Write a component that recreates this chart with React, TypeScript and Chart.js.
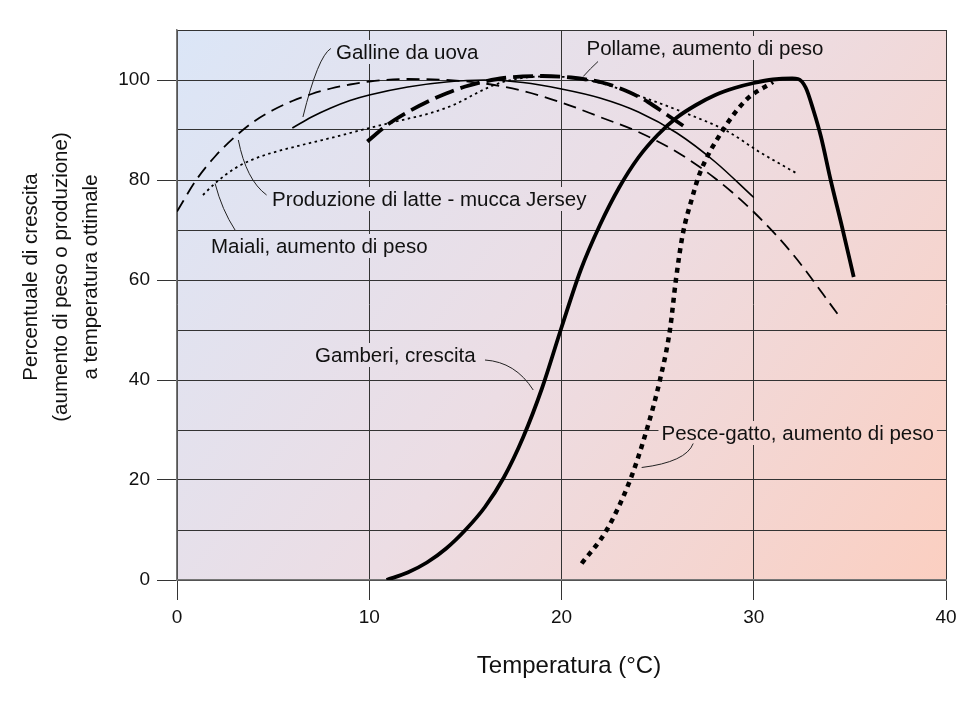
import React, { useEffect, useRef } from "react";
import { Chart, registerables } from "chart.js";

Chart.register(...registerables);

const FONT = '"Liberation Sans", Arial, Helvetica, sans-serif';

// ---- Data (temperature °C -> % of growth at optimal temperature) ----
const gallineT = [6, 7, 8, 9, 10, 12, 14, 16, 18, 20, 22, 24, 26, 28, 30];
const gallineY = [90.4, 92.6, 94.4, 95.9, 97, 98.6, 99.6, 100, 99.5, 98.2, 96.4, 93.6, 89.4, 83.6, 76.5];

const jerseyT = [0, 1, 2, 3, 4, 5, 6, 7, 8, 9, 10, 12, 14, 16, 18, 20, 22, 24, 26, 28, 30, 32, 34.4];
const jerseyY = [73.7, 80, 84.8, 88.6, 91.7, 94, 95.8, 97.2, 98.3, 99.1, 99.7, 100.2, 100, 99.3, 97.8, 95.5, 92.6, 89.6, 85.6, 80.3, 73.6, 65.3, 53];

const maialiT = [1.35, 2, 3, 4, 5, 6.6, 8.3, 10, 11.5, 13.2, 14.5, 15.5, 16.5, 17.5, 19, 20.5, 22.2, 24.2, 26.3, 28.6, 30.3, 32.2];
const maialiY = [77, 79.4, 82.3, 84.2, 85.5, 87.1, 88.7, 90.4, 91.8, 93.4, 95.2, 97.2, 99, 100.1, 100.7, 100.5, 99.2, 96.6, 93.6, 89.8, 85.6, 81.4];

const pollameT = [9.9, 11, 12, 13, 14, 15, 16, 17, 19, 20.5, 22.2, 23.5, 24.5, 25.5, 26.5];
const pollameY = [87.7, 91.2, 93.6, 95.6, 97.3, 98.7, 99.7, 100.4, 100.8, 100.5, 99.4, 97.6, 95.6, 93, 90.4];

const gamberiT = [10.9, 12, 13, 14, 15, 16, 17, 18, 19, 20, 21, 22, 23, 24, 25, 26, 27, 28, 29, 30, 31, 32, 32.3, 32.7, 33.1, 33.5, 34, 34.6, 35.2];
const gamberiY = [0, 1.5, 3.5, 6.3, 10, 14.5, 20.5, 28.5, 38.5, 50.5, 62, 71, 78.5, 84.5, 89, 92.5, 95, 97, 98.4, 99.4, 100.1, 100.3, 100.2, 98.5, 94, 88.6, 80, 70.5, 60.6];

const pesceT = [21.05, 22.35, 23.57, 24.43, 25.12, 25.64, 25.95, 26.3, 26.8, 27.2, 28.4, 29.6, 31];
const pesceY = [3.3, 10, 20, 30, 40, 50, 60, 69, 76.5, 81.4, 90, 96, 99.6];

const xTickValues = [0, 10, 20, 30, 40];
const yLabelValues = [0, 20, 40, 60, 80, 100];

const xTitle = "Temperatura (°C)";
const yTitle = ["Percentuale di crescita", "(aumento di peso o produzione)", "a temperatura ottimale"];

// Annotation labels (left x, centre y in data units) with leader curves (start, control, end)
const annLabels = [
  { text: "Galline da uova", x: 8.27, y: 105.6, leader: [[8.0, 106.3], [7.33, 104.7], [6.55, 92.6]] },
  { text: "Pollame, aumento di peso", x: 21.3, y: 106.4, leader: [[21.9, 103.7], [21.5, 102.3], [21.13, 100.7]] },
  { text: "Produzione di latte - mucca Jersey", x: 4.94, y: 76.2, leader: [[4.66, 77], [3.6, 80], [3.19, 88]] },
  { text: "Maiali, aumento di peso", x: 1.77, y: 66.8, leader: [[3.02, 70], [2.34, 74], [1.98, 79.3]] },
  { text: "Gamberi, crescita", x: 7.18, y: 45, leader: [[16.02, 44], [17.6, 43.6], [18.53, 38]] },
  { text: "Pesce-gatto, aumento di peso", x: 25.2, y: 29.4, leader: [[26.85, 27.3], [26.48, 23.6], [24.17, 22.5]] },
];

function pts(xs: number[], ys: number[]) {
  return xs.map((x, i) => ({ x, y: ys[i] }));
}

function makeGradient(ctx: CanvasRenderingContext2D, a: any) {
  const g = ctx.createLinearGradient(a.left, a.top, a.right, a.bottom);
  g.addColorStop(0, "#dbe6f7");
  g.addColorStop(0.5, "#ecdde4");
  g.addColorStop(1, "#fbcfc1");
  return g;
}

const decorPlugin = {
  id: "decor",
  beforeDraw(chart: any) {
    const { ctx, chartArea: a } = chart;
    ctx.save();
    ctx.fillStyle = makeGradient(ctx, a);
    ctx.fillRect(a.left, a.top, a.right - a.left, a.bottom - a.top);
    ctx.restore();
  },
  beforeDatasetsDraw(chart: any) {
    const { ctx, chartArea: a } = chart;
    const xs = chart.scales.x;
    const ys = chart.scales.y;
    ctx.save();
    ctx.font = `20.5px ${FONT}`;
    ctx.textBaseline = "middle";
    ctx.textAlign = "left";
    const grad = makeGradient(ctx, a);
    for (const l of annLabels) {
      const px = xs.getPixelForValue(l.x);
      const py = ys.getPixelForValue(l.y);
      const w = ctx.measureText(l.text).width;
      ctx.fillStyle = grad;
      ctx.fillRect(px - 3, py - 12, w + 6, 24);
      ctx.fillStyle = "#111";
      ctx.fillText(l.text, px, py + 1);
      const [p0, c, p1] = l.leader;
      ctx.beginPath();
      ctx.moveTo(xs.getPixelForValue(p0[0]), ys.getPixelForValue(p0[1]));
      ctx.quadraticCurveTo(
        xs.getPixelForValue(c[0]), ys.getPixelForValue(c[1]),
        xs.getPixelForValue(p1[0]), ys.getPixelForValue(p1[1])
      );
      ctx.strokeStyle = "#222";
      ctx.lineWidth = 1;
      ctx.stroke();
    }
    ctx.restore();
  },
  afterDraw(chart: any) {
    const { ctx } = chart;
    ctx.save();
    ctx.fillStyle = "#111";
    ctx.textAlign = "center";
    ctx.textBaseline = "middle";
    ctx.font = `24px ${FONT}`;
    ctx.fillText(xTitle, 561, 658);
    ctx.translate(53, 269);
    ctx.rotate(-Math.PI / 2);
    ctx.font = `20.5px ${FONT}`;
    const lh = 30;
    yTitle.forEach((t, i) => {
      ctx.fillText(t, 0, (i - 1) * lh);
    });
    ctx.restore();
  },
};

export default function App() {
  const ref = useRef<HTMLCanvasElement | null>(null);

  useEffect(() => {
    if (!ref.current) return;
    const ds = (data: any, width: number, dash: number[]) => ({
      data,
      borderColor: "#000",
      borderWidth: width,
      borderDash: dash,
      borderCapStyle: "butt",
      pointRadius: 0,
      cubicInterpolationMode: "monotone",
      fill: false,
    });
    const chart = new Chart(ref.current, {
      type: "line",
      data: {
        datasets: [
          { label: "Galline da uova", ...ds(pts(gallineT, gallineY), 1.6, []) },
          { label: "Produzione di latte - mucca Jersey", ...ds(pts(jerseyT, jerseyY), 1.8, [13, 7]) },
          { label: "Maiali, aumento di peso", ...ds(pts(maialiT, maialiY), 1.8, [2.5, 3.5]) },
          { label: "Pollame, aumento di peso", ...ds(pts(pollameT, pollameY), 3.8, [20, 7]) },
          { label: "Gamberi, crescita", ...ds(pts(gamberiT, gamberiY), 3.8, []) },
          { label: "Pesce-gatto, aumento di peso", ...ds(pts(pesceT, pesceY), 4.5, [5, 5]) },
        ] as any,
      },
      options: {
        animation: false,
        responsive: true,
        maintainAspectRatio: false,
        parsing: false as any,
        layout: { padding: { top: 22, right: 20, bottom: 0, left: 0 } },
        plugins: { legend: { display: false }, tooltip: { enabled: false } },
        scales: {
          x: {
            type: "linear",
            min: 0,
            max: 40,
            afterBuildTicks: (s: any) => {
              s.ticks = xTickValues.map((v) => ({ value: v }));
            },
            ticks: { font: { family: FONT, size: 19 }, color: "#111", padding: 6, maxRotation: 0 },
            grid: { color: "#333", lineWidth: 1, drawTicks: true, tickLength: 20, tickColor: "#333" },
            border: { display: true, color: "#777", width: 1.5 },
            afterFit: (s: any) => {
              s.height = 121;
            },
          },
          y: {
            type: "linear",
            min: 0,
            max: 110,
            ticks: {
              stepSize: 10,
              autoSkip: false,
              font: { family: FONT, size: 19 },
              color: "#111",
              padding: 7,
              callback: (v: any) => (yLabelValues.includes(Number(v)) ? String(v) : ""),
            },
            grid: {
              color: "#333",
              lineWidth: 1,
              drawTicks: true,
              tickLength: 20,
              tickColor: (c: any) =>
                c.tick && yLabelValues.includes(c.tick.value) ? "#333" : "rgba(0,0,0,0)",
            },
            border: { display: true, color: "#777", width: 1.5 },
            afterFit: (s: any) => {
              s.width = 169;
            },
          },
        },
      } as any,
      plugins: [decorPlugin],
    });
    return () => chart.destroy();
  }, []);

  return (
    <div style={{ width: 958, height: 693, position: "relative" }}>
      <canvas ref={ref} />
    </div>
  );
}
